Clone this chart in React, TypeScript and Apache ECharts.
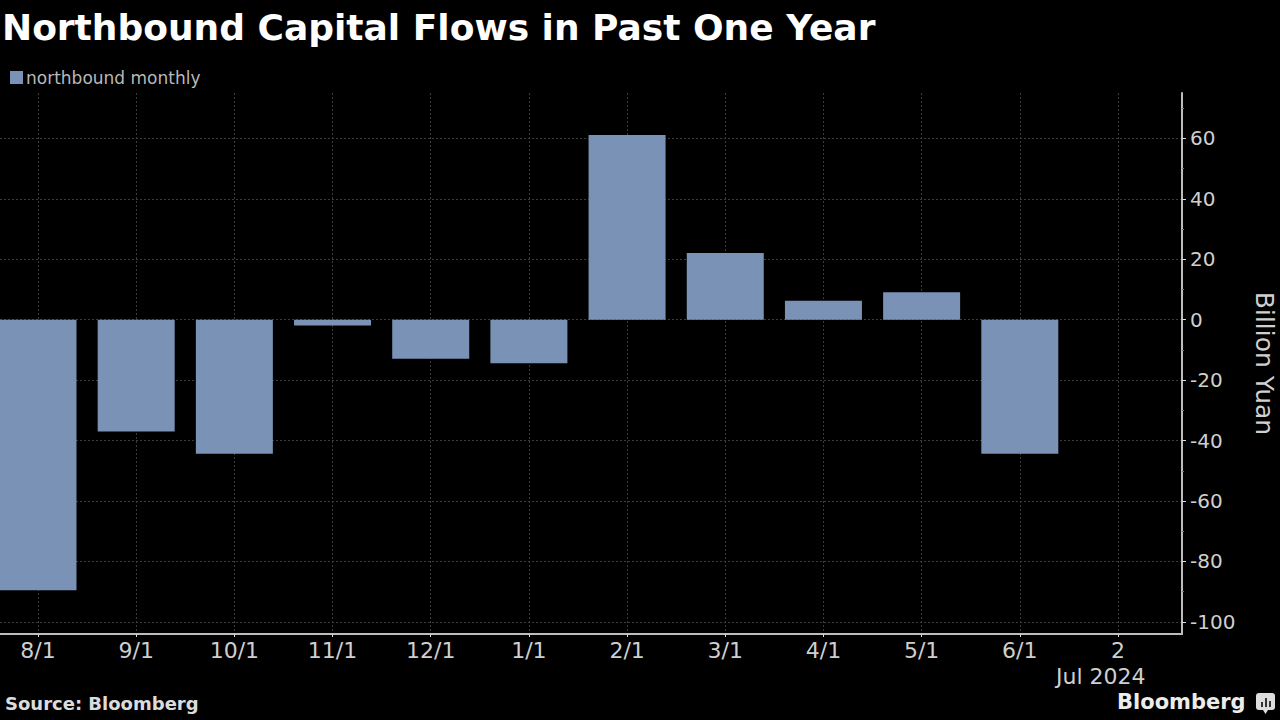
import React, { useEffect, useRef } from "react";
import * as echarts from "echarts";

const categories = ["8/1", "9/1", "10/1", "11/1", "12/1", "1/1", "2/1", "3/1", "4/1", "5/1", "6/1", "2"];
const values = [-89.5, -37.0, -44.4, -1.9, -12.9, -14.4, 61.1, 22.1, 6.3, 9.1, -44.4];
const yTicks = [-100, -80, -60, -40, -20, 0, 20, 40, 60];
const yMinorTicks = [-90, -70, -50, -30, -10, 10, 30, 50, 70];
const seriesName = "northbound monthly";

export default function App() {
  const ref = useRef<HTMLDivElement>(null);
  useEffect(() => {
    if (!ref.current) return;
    const chart = echarts.init(ref.current, null, { renderer: "svg" });
    const xTickValues = categories.map((_, i) => i);
    const barData = values.map((v, i) => [i, v]);
    const grid = "#3c3c3c";
    const labelColor = "#cfcfcf";
    chart.setOption({
      animation: false,
      backgroundColor: "#000000",
      title: {
        text: "Northbound Capital Flows in Past One Year",
        left: -3,
        top: 4,
        textStyle: {
          color: "#ffffff",
          fontFamily: "DejaVu Sans",
          fontWeight: "bold",
          fontSize: 36,
        },
      },
      legend: {
        left: 5,
        top: 64,
        itemWidth: 13,
        itemHeight: 13,
        itemGap: 10,
        icon: "rect",
        textStyle: { color: "#b8b8b8", fontFamily: "DejaVu Sans", fontSize: 17, padding: [0, 0, 0, -2] },
        data: [seriesName],
      },
      grid: { left: 0, right: 98, top: 93, bottom: 86, containLabel: false, outerBoundsMode: "none" },
      xAxis: {
        type: "value",
        min: -0.387,
        max: 11.652,
        axisLine: { show: true, onZero: false, lineStyle: { color: "#bdbdbd", width: 2 } },
        axisTick: { show: true, customValues: xTickValues, length: 3, lineStyle: { color: "#dddddd" } },
        axisLabel: {
          customValues: xTickValues,
          color: labelColor,
          fontFamily: "DejaVu Sans",
          fontSize: 22,
          margin: 5,
          formatter: (v: number) => categories[Math.round(v)] ?? "",
        },
        splitLine: { show: true, lineStyle: { color: grid, type: [2, 2], width: 1 } },
      },
      yAxis: [
        {
          type: "value",
          position: "right",
          min: -104,
          max: 75,
          name: "Billion Yuan",
          nameLocation: "middle",
          nameRotate: -90,
          nameGap: 70,
          nameTextStyle: { color: labelColor, fontFamily: "DejaVu Sans", fontSize: 25 },
          axisLine: { show: true, onZero: false, lineStyle: { color: "#bdbdbd", width: 2 } },
          axisTick: { show: true, customValues: yTicks, length: 4, lineStyle: { color: "#dddddd" } },
          axisLabel: {
            customValues: yTicks,
            color: labelColor,
            fontFamily: "DejaVu Sans",
            fontSize: 20,
            margin: 8,
          },
          splitLine: { show: true, lineStyle: { color: grid, type: [2, 2], width: 1 } },
        },
        {
          type: "value",
          position: "right",
          min: -104,
          max: 75,
          axisLine: { show: false, onZero: false },
          axisTick: { show: true, customValues: yMinorTicks, length: 2, lineStyle: { color: "#777777" } },
          axisLabel: { show: false },
          splitLine: { show: false },
        },
      ],
      graphic: [
        {
          type: "text",
          left: 1056,
          top: 665,
          style: { text: "Jul 2024", fill: labelColor, font: "22px 'DejaVu Sans'" },
        },
        {
          type: "text",
          left: 5,
          top: 694,
          style: { text: "Source: Bloomberg", fill: "#dcdcdc", font: "bold 18px 'DejaVu Sans'" },
        },
        {
          type: "text",
          left: 1117,
          top: 691,
          style: { text: "Bloomberg", fill: "#ececec", font: "bold 21px 'DejaVu Sans'" },
        },
        {
          type: "group",
          left: 1256,
          top: 693,
          children: [
            { type: "rect", shape: { x: 0, y: 0, width: 19, height: 17, r: 3 }, style: { fill: "#dddddd" } },
            { type: "polygon", shape: { points: [[7, 17], [12, 17], [9.5, 21]] }, style: { fill: "#dddddd" } },
            { type: "rect", shape: { x: 5, y: 9, width: 2, height: 5 }, style: { fill: "#333333" } },
            { type: "rect", shape: { x: 9, y: 5, width: 2, height: 9 }, style: { fill: "#333333" } },
            { type: "rect", shape: { x: 13, y: 8, width: 2, height: 6 }, style: { fill: "#333333" } },
          ],
        },
      ],
      series: [
        {
          name: seriesName,
          type: "bar",
          yAxisIndex: 0,
          barWidth: 77,
          data: barData,
          itemStyle: { color: "#7a92b6" },
        },
      ],
    });
    return () => chart.dispose();
  }, []);
  return (
    <div
      ref={ref}
      style={{ position: "absolute", left: 0, top: 0, width: 1280, height: 720, background: "#000" }}
    />
  );
}
